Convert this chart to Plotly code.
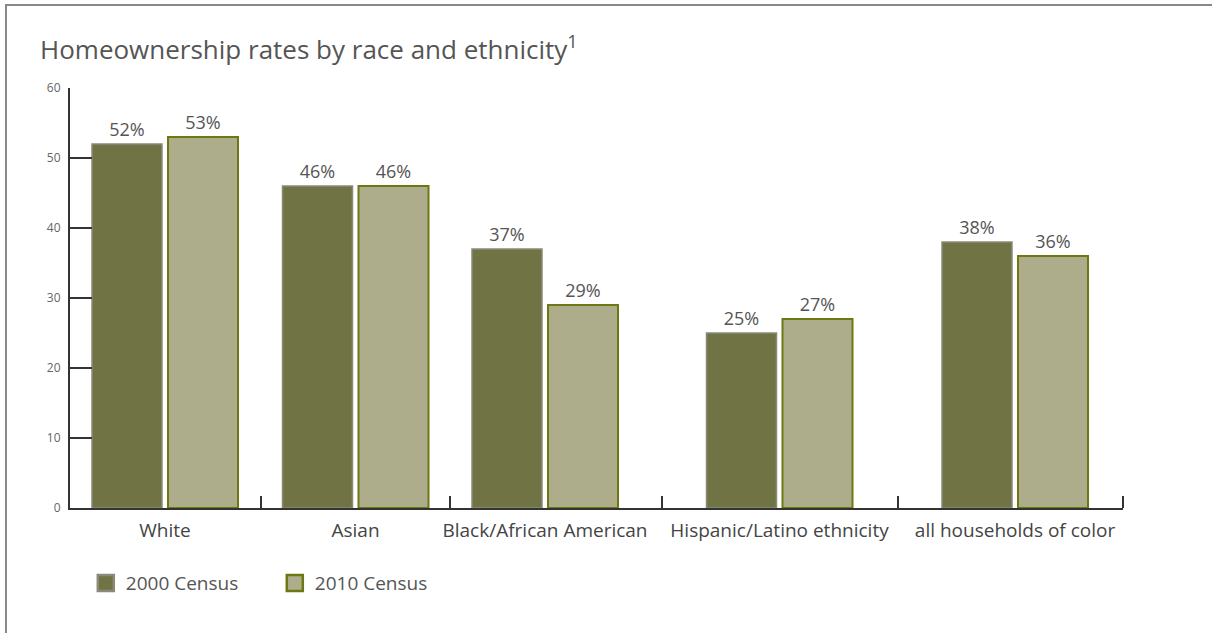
import plotly.graph_objects as go

# Data
categories = ["White", "Asian", "Black/African American",
              "Hispanic/Latino ethnicity", "all households of color"]
census_2000 = [52, 46, 37, 25, 38]
census_2010 = [53, 46, 29, 27, 36]
series_names = ["2000 Census", "2010 Census"]

# Layout helpers (axis units ~ pixels of the plot area)
centers = [95, 285.5, 475, 709.5, 945]
separators = [191, 380, 592, 828, 1053]
BAR_W = 70

DARK = "#707344"
DARK_LINE = "#8a8a7a"
LIGHT = "#adad8b"
LIGHT_LINE = "#6e7812"
TEXT = "#555555"
FONT = "Open Sans"

fig = go.Figure()

fig.add_trace(go.Bar(
    x=centers, y=census_2000, width=BAR_W, offset=-BAR_W - 3,
    marker=dict(color=DARK, line=dict(color=DARK_LINE, width=1.5)),
    text=[f"{v}%" for v in census_2000], textposition="outside",
    textfont=dict(size=18, color=TEXT, family=FONT),
    cliponaxis=False, showlegend=False, name=series_names[0],
))
fig.add_trace(go.Bar(
    x=centers, y=census_2010, width=BAR_W, offset=3,
    marker=dict(color=LIGHT, line=dict(color=LIGHT_LINE, width=2)),
    text=[f"{v}%" for v in census_2010], textposition="outside",
    textfont=dict(size=18, color=TEXT, family=FONT),
    cliponaxis=False, showlegend=False, name=series_names[1],
))

# legend-only entries with bigger squares
for name, fill, edge in [(series_names[0], DARK, DARK_LINE),
                         (series_names[1], LIGHT, LIGHT_LINE)]:
    fig.add_trace(go.Scatter(
        x=[None], y=[None], mode="markers", name=name,
        marker=dict(symbol="square", size=16, color=fill,
                    line=dict(color=edge, width=2.5)),
    ))

# frame around the chart (cut off at right and bottom)
fig.add_shape(type="path", xref="paper", yref="paper",
              path="M -0.0608,-0.32 L -0.0608,1.1976 L 1.09,1.1976",
              line=dict(color="#888888", width=2))

fig.update_layout(
    width=1212, height=633,
    margin=dict(l=70, r=89, t=88, b=125),
    paper_bgcolor="white", plot_bgcolor="white",
    barmode="overlay",
    font=dict(family=FONT, color=TEXT),
    title=dict(
        text="Homeownership rates by race and ethnicity<sup>1</sup>",
        font=dict(family=FONT, size=26, color=TEXT),
        xref="container", x=40 / 1212, xanchor="left",
        yref="container", y=1 - 50 / 633, yanchor="middle",
    ),
    xaxis=dict(
        range=[0, 1053], showgrid=False, zeroline=False,
        showline=True, linecolor="#333333", linewidth=2,
        tickvals=centers, ticktext=categories, ticks="",
        tickfont=dict(size=19, color="#444444", family=FONT),
        ticklabelstandoff=4,
        minor=dict(tickvals=separators, ticks="inside", ticklen=12,
                   tickcolor="#333333", tickwidth=2),
    ),
    yaxis=dict(
        range=[0, 60], dtick=10, showgrid=False, zeroline=False,
        showline=True, linecolor="#333333", linewidth=2,
        ticks="inside", ticklen=22, tickcolor="#333333", tickwidth=2,
        tickfont=dict(size=12, color="#666666", family=FONT),
        ticklabelstandoff=5,
    ),
    legend=dict(
        orientation="h", x=0.015, xanchor="left", y=-0.179, yanchor="middle",
        font=dict(size=19, color=TEXT, family=FONT),
        itemwidth=30, traceorder="normal",
        entrywidth=144, entrywidthmode="pixels",
    ),
)

fig.write_html("out.html", config={"displayModeBar": False},
               post_script="document.body.style.margin='0';")
